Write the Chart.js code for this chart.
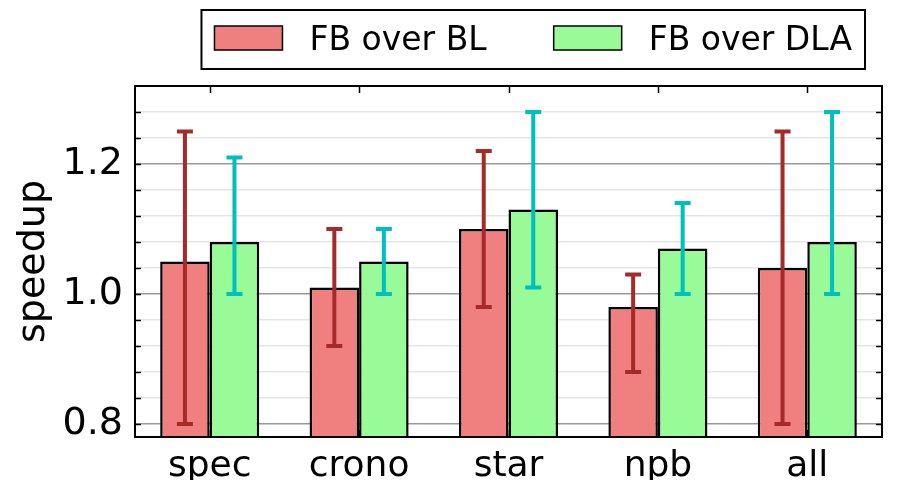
<!DOCTYPE html>
<html lang="en">
<head>
<meta charset="UTF-8">
<title>speedup</title>
<script src="https://cdn.jsdelivr.net/npm/chart.js@4.4.0/dist/chart.umd.min.js"></script>
<style>
    body { margin: 0; background: #ffffff; }
</style>
</head>
<body>
<canvas id="myChart" width="900" height="480"></canvas>

<script type="text/javascript">
// data
var categories = ["spec", "crono", "star", "npb", "all"];
var overBL = [1.05, 1.01, 1.10, 0.98, 1.04];
var overBLlow = [0.80, 0.92, 0.98, 0.88, 0.80];
var overBLhigh = [1.25, 1.10, 1.22, 1.03, 1.25];
var overDLA = [1.08, 1.05, 1.13, 1.07, 1.08];
var overDLAlow = [1.00, 1.00, 1.01, 1.00, 1.00];
var overDLAhigh = [1.21, 1.10, 1.28, 1.14, 1.28];
var yTicks = [0.80, 0.84, 0.88, 0.92, 0.96, 1.00, 1.04, 1.08, 1.12, 1.16, 1.20, 1.24, 1.28];
var yLabels = [0.8, 1.0, 1.2];

var errLow = [overBLlow, overDLAlow];
var errHigh = [overBLhigh, overDLAhigh];
var errColor = ["#a52a2a", "#00bfbf"];

function isMajor(v) {
    return yLabels.some(function (m) { return Math.abs(m - v) < 1e-6; });
}

// error bars, drawn on top of the bars
const errorBars = {
    id: 'errorBars',
    afterDatasetsDraw(chart) {
        const ctx = chart.ctx;
        const y = chart.scales.y;
        ctx.save();
        ctx.lineWidth = 4;
        for (let i = 0; i < chart.data.datasets.length; i++) {
            const meta = chart.getDatasetMeta(i);
            ctx.strokeStyle = errColor[i];
            meta.data.forEach(function (bar, j) {
                const x = bar.x;
                const yl = y.getPixelForValue(errLow[i][j]);
                const yh = y.getPixelForValue(errHigh[i][j]);
                ctx.beginPath();
                ctx.moveTo(x, yl); ctx.lineTo(x, yh);
                ctx.moveTo(x - 8, yl); ctx.lineTo(x + 8, yl);
                ctx.moveTo(x - 8, yh); ctx.lineTo(x + 8, yh);
                ctx.stroke();
            });
        }
        ctx.restore();
    }
};

// frame, inward ticks and the boxed legend
const frameAndLegend = {
    id: 'frameAndLegend',
    afterDraw(chart) {
        const ctx = chart.ctx;
        const a = chart.chartArea;
        const y = chart.scales.y;
        const x = chart.scales.x;
        ctx.save();
        ctx.strokeStyle = '#000';
        ctx.lineWidth = 1.5;
        ctx.beginPath();
        yTicks.forEach(function (v) {
            const py = Math.round(y.getPixelForValue(v)) + 0.5;
            ctx.moveTo(a.left, py); ctx.lineTo(a.left + 6, py);
            ctx.moveTo(a.right, py); ctx.lineTo(a.right - 6, py);
        });
        categories.forEach(function (c, i) {
            const px = Math.round(x.getPixelForValue(i)) + 0.5;
            ctx.moveTo(px, a.top); ctx.lineTo(px, a.top + 7);
            ctx.moveTo(px, a.bottom); ctx.lineTo(px, a.bottom - 7);
        });
        ctx.stroke();
        ctx.lineWidth = 2;
        ctx.strokeRect(a.left, a.top, a.right - a.left, a.bottom - a.top);

        // legend
        ctx.font = '33px "DejaVu Sans"';
        const items = chart.data.datasets.map(function (ds) {
            return { label: ds.label, color: ds.backgroundColor, w: ctx.measureText(ds.label).width };
        });
        let total = 26 + 67 * (items.length - 1);
        items.forEach(function (it) { total += 68 + 27 + it.w; });
        const right = a.right - 17;
        const left = right - total;
        ctx.lineWidth = 2;
        ctx.strokeRect(left, 10, total, 59);
        let px = left + 13;
        items.forEach(function (it) {
            ctx.fillStyle = it.color;
            ctx.fillRect(px, 26, 68, 24);
            ctx.lineWidth = 1.5;
            ctx.strokeRect(px, 26, 68, 24);
            px += 68 + 27;
            ctx.fillStyle = '#000';
            ctx.textBaseline = 'alphabetic';
            ctx.fillText(it.label, px, 49.5);
            px += it.w + 67;
        });
        ctx.restore();
    }
};

const config = {
    type: 'bar',
    data: {
        labels: categories,
        datasets: [{
            label: 'FB over BL',
            data: overBL,
            backgroundColor: '#f08080',
            borderColor: '#000',
            borderWidth: 2.5,
            categoryPercentage: 0.663,
            barPercentage: 1.0
        }, {
            label: 'FB over DLA',
            data: overDLA,
            backgroundColor: '#98fb98',
            borderColor: '#000',
            borderWidth: 2.5,
            categoryPercentage: 0.663,
            barPercentage: 1.0
        }]
    },
    options: {
        responsive: false,
        animation: false,
        devicePixelRatio: 1,
        layout: { padding: { top: 86, right: 18, bottom: 0, left: 0 } },
        plugins: {
            legend: { display: false },
            tooltip: { enabled: false }
        },
        scales: {
            x: {
                grid: { display: false, drawTicks: false },
                border: { display: false },
                ticks: { color: '#000', padding: 8, font: { family: 'DejaVu Sans', size: 36 } },
                afterFit: function (s) { s.height = 43; }
            },
            y: {
                min: 0.78,
                max: 1.32,
                z: 1,
                afterBuildTicks: function (s) {
                    s.ticks = yTicks.map(function (v) { return { value: v }; });
                },
                afterFit: function (s) { s.width = 135; },
                grid: {
                    drawTicks: false,
                    lineWidth: 1.5,
                    color: function (c) {
                        return isMajor(c.tick.value) ? 'rgba(128,128,128,0.8)' : 'rgba(190,190,190,0.4)';
                    }
                },
                border: { display: false },
                ticks: {
                    color: '#000',
                    padding: 12,
                    autoSkip: false,
                    font: { family: 'DejaVu Sans', size: 38 },
                    callback: function (v) { return isMajor(v) ? v.toFixed(1) : ''; }
                },
                title: {
                    display: true,
                    text: 'speedup',
                    color: '#000',
                    font: { family: 'DejaVu Sans', size: 38 },
                    padding: { top: 11, bottom: 0 }
                }
            }
        }
    },
    plugins: [errorBars, frameAndLegend]
};

var myChart = new Chart(document.getElementById('myChart'), config);
</script>
</body>
</html>
